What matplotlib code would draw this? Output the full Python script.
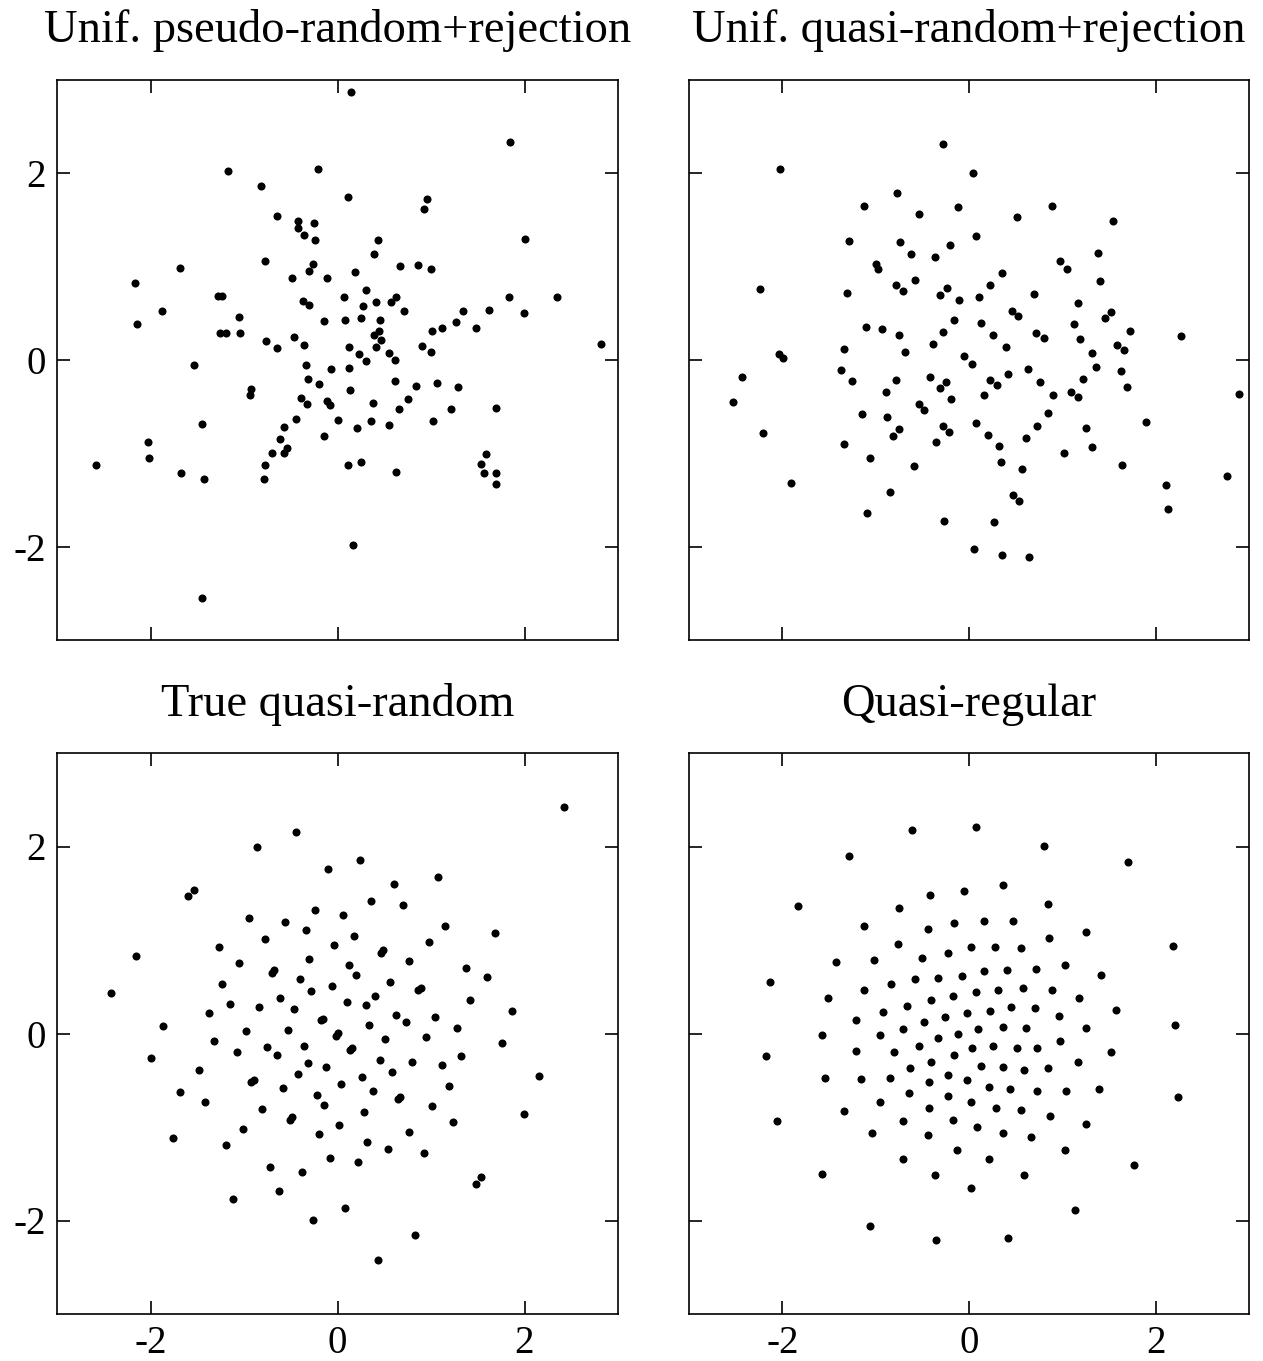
import numpy as np
import matplotlib
matplotlib.use("Agg")
import matplotlib.pyplot as plt

plt.rcParams['font.family'] = ['Liberation Serif', 'DejaVu Serif']
plt.rcParams['axes.unicode_minus'] = False

titles = ["Unif. pseudo-random+rejection", "Unif. quasi-random+rejection",
          "True quasi-random", "Quasi-regular"]
ticks = [-2, 0, 2]

# point sets, (x, y)
pseudo_pts = [
    (-1.17, 2.03), (-0.21, 2.05), (-0.82, 1.86), (-0.65, 1.54), (-0.42, 1.49), (-0.25, 1.47),
    (-0.42, 1.41), (-0.36, 1.34), (-0.24, 1.29), (-1.68, 0.99), (-0.78, 1.06), (-0.26, 1.03),
    (-0.31, 0.95), (-2.17, 0.82), (-0.49, 0.88), (-0.11, 0.88), (-1.28, 0.69), (-1.23, 0.69),
    (-0.37, 0.63), (-0.30, 0.59), (-1.88, 0.53), (-2.14, 0.39), (-1.05, 0.46), (-0.14, 0.42),
    (-1.26, 0.29), (-1.19, 0.29), (-1.04, 0.29), (-0.77, 0.20), (-0.65, 0.13), (-0.47, 0.25),
    (-0.36, 0.16),
    (0.14, 2.87), (1.85, 2.34), (0.11, 1.75), (0.96, 1.72), (0.92, 1.62), (2.01, 1.30),
    (0.43, 1.29), (0.39, 1.14), (0.19, 0.94), (0.67, 1.01), (0.86, 1.02), (1.00, 0.98),
    (0.31, 0.75), (0.07, 0.68), (0.63, 0.68), (0.41, 0.62), (0.57, 0.62), (0.27, 0.58),
    (1.83, 0.67), (2.35, 0.67), (0.71, 0.53), (0.08, 0.43), (0.25, 0.45), (0.45, 0.43),
    (1.34, 0.52), (1.62, 0.54), (1.99, 0.50), (1.27, 0.41), (1.12, 0.34), (1.01, 0.31),
    (1.48, 0.34), (0.44, 0.31), (0.39, 0.27), (0.47, 0.21), (0.12, 0.14), (0.41, 0.14),
    (0.90, 0.15), (1.00, 0.09), (2.82, 0.17), (0.23, 0.06), (0.31, -0.01), (0.55, 0.07),
    (0.62, 0.00),
    (0.12, -0.09), (0.13, -0.32), (0.62, -0.23), (0.84, -0.28), (1.06, -0.25), (1.29, -0.29),
    (0.38, -0.46), (0.75, -0.42), (0.66, -0.52), (1.21, -0.52), (1.69, -0.51), (0.36, -0.65),
    (0.21, -0.73), (0.55, -0.70), (1.02, -0.65), (1.59, -1.01), (1.54, -1.11), (1.57, -1.21),
    (1.69, -1.21), (1.69, -1.33), (0.11, -1.13), (0.25, -1.09), (0.63, -1.20), (0.17, -1.98),
    (-1.54, -0.05), (-0.34, -0.05), (-0.07, -0.10), (-0.32, -0.20), (-0.20, -0.26), (-0.93, -0.31),
    (-0.94, -0.37), (-0.39, -0.41), (-0.33, -0.47), (-0.11, -0.44), (-0.08, -0.48), (0.00, -0.64),
    (-0.44, -0.63), (-1.45, -0.69), (-0.57, -0.72), (-0.14, -0.81), (-0.62, -0.85), (-2.03, -0.88),
    (-2.02, -1.05), (-0.70, -1.00), (-0.54, -0.94), (-0.57, -1.00), (-2.58, -1.13), (-0.78, -1.12),
    (-1.67, -1.21), (-1.43, -1.28), (-0.79, -1.28), (-1.45, -2.55),
]

quasi_rej_pts = [
    (-0.28, 2.31), (-2.03, 2.05), (-0.77, 1.79), (-1.13, 1.65), (-0.12, 1.64), (-0.54, 1.56),
    (-1.29, 1.28), (-0.74, 1.26), (-0.20, 1.23), (-0.62, 1.14), (-0.36, 1.10), (-1.00, 1.03),
    (-0.98, 0.97), (-0.58, 0.86), (-0.78, 0.80), (-0.71, 0.74), (-2.24, 0.76), (-1.31, 0.72),
    (-0.24, 0.77), (-0.31, 0.70), (-0.11, 0.64), (-0.16, 0.43), (-1.10, 0.35), (-0.93, 0.33),
    (-0.75, 0.27), (-0.28, 0.30), (-0.39, 0.17), (-1.34, 0.12), (-0.69, 0.09), (-2.04, 0.06),
    (-1.99, 0.02), (-0.05, 0.04),
    (0.04, 2.00), (0.89, 1.65), (0.51, 1.53), (1.54, 1.49), (0.07, 1.33), (1.38, 1.15),
    (0.97, 1.06), (1.05, 0.98), (0.35, 0.93), (1.40, 0.85), (0.23, 0.80), (0.70, 0.71),
    (0.11, 0.67), (1.17, 0.61), (0.46, 0.53), (0.53, 0.47), (1.52, 0.51), (1.46, 0.45),
    (0.13, 0.40), (1.13, 0.39), (0.26, 0.27), (0.72, 0.29), (0.80, 0.24), (1.72, 0.31),
    (2.27, 0.26), (1.19, 0.22), (0.40, 0.14), (1.59, 0.16), (1.66, 0.11), (1.32, 0.08),
    (-2.43, -0.18), (-2.53, -0.45), (-1.37, -0.11), (-1.25, -0.23), (-0.89, -0.34), (-0.78, -0.21),
    (-0.42, -0.18), (-0.25, -0.24), (-0.31, -0.30), (-0.19, -0.42), (-0.54, -0.47), (-0.48, -0.54),
    (-1.15, -0.58), (-0.88, -0.61), (-0.75, -0.74), (-0.81, -0.81), (-0.28, -0.71), (-0.21, -0.77),
    (-0.35, -0.88), (-2.21, -0.78), (-1.34, -0.90), (-1.06, -1.05), (-0.59, -1.14), (-1.91, -1.32),
    (-0.85, -1.41), (-1.09, -1.64), (-0.27, -1.72),
    (0.03, -0.04), (0.23, -0.21), (0.30, -0.27), (0.42, -0.15), (0.63, -0.10), (0.76, -0.24),
    (0.16, -0.38), (0.90, -0.37), (1.09, -0.34), (1.17, -0.40), (1.22, -0.20), (1.36, -0.08),
    (1.63, -0.12), (1.69, -0.29), (2.89, -0.36), (0.85, -0.57), (0.73, -0.71), (0.08, -0.68),
    (0.20, -0.80), (0.32, -0.92), (0.61, -0.84), (1.25, -0.73), (1.90, -0.66), (1.32, -0.93),
    (1.02, -1.00), (0.34, -1.09), (0.57, -1.17), (1.64, -1.12), (2.76, -1.24), (2.11, -1.34),
    (2.13, -1.60), (0.47, -1.45), (0.54, -1.51), (0.27, -1.74), (0.05, -2.03), (0.35, -2.09),
    (0.64, -2.11),
]

true_quasi_pts = [
    (2.42, 2.42), (-0.44, 2.15), (-0.86, 1.99), (0.24, 1.86), (-0.10, 1.76), (1.08, 1.67),
    (0.60, 1.60), (-1.60, 1.47), (-1.54, 1.54), (0.36, 1.42), (0.70, 1.37), (-0.24, 1.32),
    (0.06, 1.27), (-0.95, 1.23), (-0.56, 1.19), (-0.34, 1.11), (1.15, 1.15), (1.68, 1.08),
    (0.18, 1.04), (-0.78, 1.01), (-0.04, 0.95), (0.98, 0.98), (-1.27, 0.92), (0.47, 0.86),
    (0.49, 0.89), (-2.15, 0.83), (0.77, 0.78), (-0.30, 0.80), (-1.05, 0.75), (0.12, 0.73),
    (-0.70, 0.65), (-0.68, 0.68), (0.20, 0.63), (1.37, 0.70), (1.60, 0.60), (-0.40, 0.58),
    (-1.23, 0.53), (-0.06, 0.51), (0.56, 0.55), (0.86, 0.47), (0.89, 0.49), (-2.42, 0.43),
    (-0.28, 0.45), (0.40, 0.40), (-0.61, 0.38), (0.10, 0.34), (0.30, 0.30), (1.42, 0.36),
    (-1.15, 0.32), (-0.84, 0.28), (-0.47, 0.26), (-1.37, 0.22), (1.87, 0.24), (-0.18, 0.14),
    (-0.16, 0.16), (0.63, 0.20), (0.73, 0.12), (1.04, 0.18), (0.34, 0.09), (-1.87, 0.08),
    (1.28, 0.06), (-0.98, 0.03), (-0.53, 0.04), (0.00, 0.01),
    (-1.32, -0.08), (0.95, -0.04), (0.51, -0.06), (1.76, -0.10), (-1.99, -0.26), (-1.08, -0.20),
    (-0.75, -0.14), (-0.65, -0.23), (-0.36, -0.13), (-0.02, -0.03), (0.13, -0.18), (0.16, -0.16),
    (1.32, -0.24), (0.45, -0.28), (0.80, -0.30), (1.12, -0.34), (-1.48, -0.39), (-0.32, -0.32),
    (-0.12, -0.36), (-0.42, -0.43), (0.26, -0.47), (0.58, -0.41), (2.16, -0.45), (-0.92, -0.52),
    (-0.89, -0.50), (0.04, -0.54), (-0.58, -0.58), (0.38, -0.61), (1.19, -0.56), (-1.68, -0.63),
    (-0.22, -0.66), (0.65, -0.70), (0.67, -0.68), (-1.42, -0.73), (-0.14, -0.76), (1.01, -0.78),
    (-0.81, -0.81), (0.28, -0.84), (-0.51, -0.92), (-0.49, -0.89), (1.99, -0.86), (1.23, -0.95),
    (0.02, -0.98), (-1.01, -1.02), (0.76, -1.05), (-0.20, -1.08), (-1.76, -1.12), (0.32, -1.16),
    (-1.19, -1.19), (0.54, -1.24), (0.92, -1.28), (-0.08, -1.33), (0.22, -1.37), (-0.72, -1.43),
    (-0.38, -1.48), (1.54, -1.54), (1.48, -1.61), (-0.63, -1.68), (-1.12, -1.77), (0.08, -1.87),
    (-0.26, -1.99), (0.83, -2.16), (0.43, -2.42),
]

quasi_reg_pts = [
    (-0.61, 2.18), (0.08, 2.21), (-1.29, 1.90), (0.80, 2.01), (1.70, 1.83), (-1.83, 1.36),
    (0.36, 1.59), (-0.05, 1.52), (-0.42, 1.48), (-0.75, 1.34), (0.85, 1.38), (-1.13, 1.15),
    (-0.44, 1.12), (-0.16, 1.18), (0.16, 1.20), (0.47, 1.20), (1.25, 1.09), (-0.76, 0.96),
    (0.86, 1.02), (2.19, 0.94), (-1.42, 0.76), (-1.02, 0.79), (-0.50, 0.81), (-0.23, 0.86),
    (0.02, 0.92), (0.28, 0.92), (0.56, 0.91), (1.03, 0.73), (-2.13, 0.55), (-0.84, 0.53),
    (-0.58, 0.58), (-0.33, 0.59), (-0.08, 0.62), (0.16, 0.67), (0.41, 0.68), (0.72, 0.69),
    (1.41, 0.63), (-1.51, 0.38), (-1.12, 0.47), (-0.41, 0.36), (-0.17, 0.40), (0.07, 0.44),
    (0.31, 0.46), (0.58, 0.49), (0.89, 0.47), (1.18, 0.38), (-1.21, 0.14), (-0.92, 0.23),
    (-0.66, 0.29), (-0.26, 0.18), (-0.02, 0.22), (0.22, 0.24), (0.45, 0.28), (0.71, 0.27),
    (0.96, 0.19), (1.57, 0.25), (2.21, 0.09), (-0.48, 0.12), (-0.71, 0.05), (0.10, 0.05),
    (0.36, 0.07), (0.61, 0.06), (1.25, 0.06),
    (-1.58, -0.02), (-0.95, -0.02), (-0.33, -0.05), (-0.12, -0.01), (-0.54, -0.13), (0.97, -0.08),
    (-2.17, -0.24), (-1.21, -0.19), (-0.80, -0.20), (-0.16, -0.23), (0.03, -0.16), (0.26, -0.13),
    (0.51, -0.15), (0.73, -0.16), (1.52, -0.20), (-0.41, -0.30), (-0.63, -0.37), (0.13, -0.35),
    (0.36, -0.36), (0.59, -0.39), (0.85, -0.37), (1.17, -0.30), (-1.54, -0.48), (-1.16, -0.49),
    (-0.85, -0.48), (-0.43, -0.52), (-0.23, -0.44), (-0.02, -0.50), (0.21, -0.57), (0.44, -0.59),
    (0.73, -0.61), (1.04, -0.62), (1.39, -0.59), (2.24, -0.68), (-0.64, -0.64), (-0.22, -0.67),
    (-0.95, -0.73), (0.02, -0.73), (-0.43, -0.80), (0.29, -0.80), (0.56, -0.82), (-1.34, -0.83),
    (0.87, -0.88), (-2.06, -0.94), (-0.71, -0.94), (-0.17, -0.93), (0.09, -1.00), (1.25, -0.97),
    (-1.04, -1.06), (-0.44, -1.09), (0.36, -1.06), (0.66, -1.11), (-0.13, -1.25), (1.03, -1.25),
    (-0.71, -1.34), (0.21, -1.34), (1.77, -1.41), (-1.58, -1.50), (-0.36, -1.51), (0.59, -1.51),
    (0.02, -1.65), (1.14, -1.89), (-1.06, -2.06), (-0.35, -2.21), (0.42, -2.19),
]

point_sets = [pseudo_pts, quasi_rej_pts, true_quasi_pts, quasi_reg_pts]

fig = plt.figure(figsize=(12.63, 13.61), dpi=100)
W, H = 1263, 1361
# axes boxes in pixels: left, top, right, bottom
boxes = [(57, 80, 618, 640), (689, 80, 1249, 640),
         (57, 753, 618, 1314), (689, 753, 1249, 1314)]

for i, (pts, title, box) in enumerate(zip(point_sets, titles, boxes)):
    l, t, r, b = box
    ax = fig.add_axes([l / W, (H - b) / H, (r - l) / W, (b - t) / H])
    pts = np.array(pts)
    ax.plot(pts[:, 0], pts[:, 1], 'o', color='black', ms=5.8, mew=0)
    ax.set_xlim(-3, 3)
    ax.set_ylim(-3, 3)
    ax.set_xticks(ticks)
    ax.set_yticks(ticks)
    ax.tick_params(direction='in', length=9.5, width=1.2, top=True, right=True,
                   labelsize=28, pad=8,
                   labelbottom=(i >= 2), labelleft=(i % 2 == 0))
    for s in ax.spines.values():
        s.set_linewidth(1.2)
    ax.set_title(title, fontsize=33.5, pad=27)

fig.savefig("out.png", dpi=100)
